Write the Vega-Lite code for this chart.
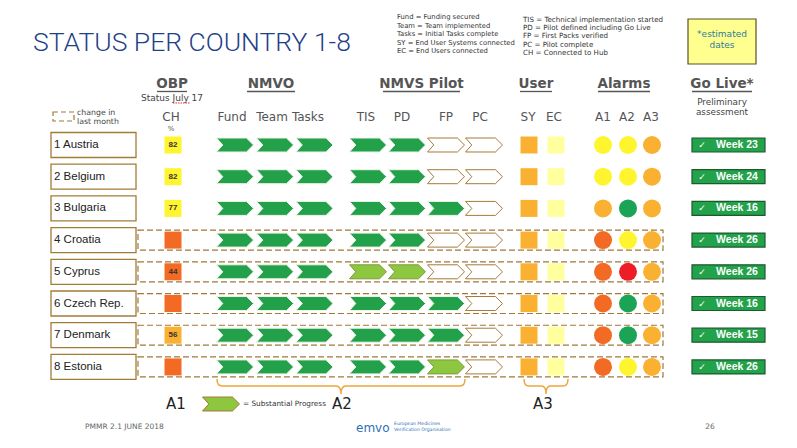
{
"$schema":"https://vega.github.io/schema/vega-lite/v6.json",
"width":797,"height":448,
"autosize":{"type":"fit","contains":"padding"},
"padding":0,
"background":"#FFFFFF",
"config":{"view":{"stroke":null}},
"datasets":{"countries":[
{"rank":1,"country":"1 Austria","CH":82,"CH_status":"yellow","Fund":"complete","Team":"complete","Tasks":"complete","TIS":"complete","PD":"complete","FP":"not started","PC":"not started","SY":"amber","EC":"pale","A1":"yellow","A2":"yellow","A3":"amber","goLive":"Week 23","changed":false},
{"rank":2,"country":"2 Belgium","CH":82,"CH_status":"yellow","Fund":"complete","Team":"complete","Tasks":"complete","TIS":"complete","PD":"complete","FP":"not started","PC":"not started","SY":"amber","EC":"pale","A1":"yellow","A2":"yellow","A3":"amber","goLive":"Week 24","changed":false},
{"rank":3,"country":"3 Bulgaria","CH":77,"CH_status":"yellow","Fund":"complete","Team":"complete","Tasks":"complete","TIS":"complete","PD":"complete","FP":"complete","PC":"not started","SY":"amber","EC":"pale","A1":"amber","A2":"green","A3":"amber","goLive":"Week 16","changed":false},
{"rank":4,"country":"4 Croatia","CH":null,"CH_status":"orange","Fund":"complete","Team":"complete","Tasks":"complete","TIS":"complete","PD":"complete","FP":"not started","PC":"not started","SY":"amber","EC":"pale","A1":"orange","A2":"yellow","A3":"amber","goLive":"Week 26","changed":true},
{"rank":5,"country":"5 Cyprus","CH":44,"CH_status":"orange","Fund":"complete","Team":"complete","Tasks":"complete","TIS":"substantial","PD":"substantial","FP":"not started","PC":"not started","SY":"amber","EC":"pale","A1":"orange","A2":"red","A3":"amber","goLive":"Week 26","changed":true},
{"rank":6,"country":"6 Czech Rep.","CH":null,"CH_status":"orange","Fund":"complete","Team":"complete","Tasks":"complete","TIS":"complete","PD":"complete","FP":"complete","PC":"not started","SY":"amber","EC":"pale","A1":"orange","A2":"green","A3":"amber","goLive":"Week 16","changed":true},
{"rank":7,"country":"7 Denmark","CH":56,"CH_status":"amber","Fund":"complete","Team":"complete","Tasks":"complete","TIS":"complete","PD":"complete","FP":"complete","PC":"not started","SY":"amber","EC":"pale","A1":"orange","A2":"green","A3":"amber","goLive":"Week 15","changed":true},
{"rank":8,"country":"8 Estonia","CH":null,"CH_status":"orange","Fund":"complete","Team":"complete","Tasks":"complete","TIS":"complete","PD":"complete","FP":"substantial","PC":"not started","SY":"amber","EC":"pale","A1":"orange","A2":"yellow","A3":"amber","goLive":"Week 26","changed":true}
]},
"data":{"name":"countries"},
"layer":[
{"data":{"values":[{}]},"mark":{"type":"text","text":"STATUS PER COUNTRY 1-8","font":"Roboto","fontWeight":300,"fontSize":26.5,"color":"#1F3F87","align":"left","baseline":"middle"},"encoding":{"x":{"datum":33,"type":"quantitative","scale":{"domain":[0,797],"nice":false,"zero":false},"axis":null},"y":{"datum":-2.218,"type":"quantitative","scale":{"domain":[-3.574,10.558],"nice":false,"zero":false,"reverse":true},"axis":null}}},
{"data":{"values":[{}]},"mark":{"type":"text","text":"Fund = Funding secured\nTeam = Team implemented\nTasks = Initial Tasks complete\n \nSY = End User Systems connected\nEC = End Users connected","lineBreak":"\n","lineHeight":8.4,"font":"DejaVu Sans","fontSize":6.8,"color":"#333333","align":"left","baseline":"top"},"encoding":{"x":{"datum":397,"type":"quantitative","axis":null},"y":{"datum":-3.117,"type":"quantitative","axis":null}}},
{"data":{"values":[{}]},"mark":{"type":"text","text":"TIS = Technical implementation started\nPD = Pilot defined including Go Live\nFP = First Packs verified\nPC = Pilot complete\n \nCH = Connected to Hub","lineBreak":"\n","lineHeight":8.2,"font":"DejaVu Sans","fontSize":7.1,"color":"#333333","align":"left","baseline":"top"},"encoding":{"x":{"datum":523,"type":"quantitative","axis":null},"y":{"datum":-3.069,"type":"quantitative","axis":null}}},
{"data":{"values":[{}]},"mark":{"type":"rect","fill":"#FFFF8F","stroke":"#5C5026","strokeWidth":1.2},"encoding":{"x":{"datum":688,"type":"quantitative","axis":null},"x2":{"datum":756},"y":{"datum":-2.975,"type":"quantitative","axis":null},"y2":{"datum":-1.555}}},
{"data":{"values":[{}]},"mark":{"type":"text","text":"*estimated\ndates","lineBreak":"\n","lineHeight":11,"font":"DejaVu Sans","fontSize":9,"color":"#2E7D9A","align":"center","baseline":"top"},"encoding":{"x":{"datum":722,"type":"quantitative","axis":null},"y":{"datum":-2.612,"type":"quantitative","axis":null}}},

{"data":{"values":[{}]},"mark":{"type":"text","text":"OBP","font":"DejaVu Sans","fontWeight":"bold","fontSize":13.5,"color":"#555555","align":"center","baseline":"middle"},"encoding":{"x":{"datum":172,"type":"quantitative","axis":null},"y":{"datum":-0.924,"type":"quantitative","axis":null}}},
{"data":{"values":[{}]},"mark":{"type":"text","text":"NMVO","font":"DejaVu Sans","fontWeight":"bold","fontSize":13.5,"color":"#555555","align":"center","baseline":"middle"},"encoding":{"x":{"datum":271,"type":"quantitative","axis":null},"y":{"datum":-0.924,"type":"quantitative","axis":null}}},
{"data":{"values":[{}]},"mark":{"type":"text","text":"NMVS Pilot","font":"DejaVu Sans","fontWeight":"bold","fontSize":13.5,"color":"#555555","align":"center","baseline":"middle"},"encoding":{"x":{"datum":421.5,"type":"quantitative","axis":null},"y":{"datum":-0.924,"type":"quantitative","axis":null}}},
{"data":{"values":[{}]},"mark":{"type":"text","text":"User","font":"DejaVu Sans","fontWeight":"bold","fontSize":13.5,"color":"#555555","align":"center","baseline":"middle"},"encoding":{"x":{"datum":536,"type":"quantitative","axis":null},"y":{"datum":-0.924,"type":"quantitative","axis":null}}},
{"data":{"values":[{}]},"mark":{"type":"text","text":"Alarms","font":"DejaVu Sans","fontWeight":"bold","fontSize":13.5,"color":"#555555","align":"center","baseline":"middle"},"encoding":{"x":{"datum":624,"type":"quantitative","axis":null},"y":{"datum":-0.924,"type":"quantitative","axis":null}}},
{"data":{"values":[{}]},"mark":{"type":"text","text":"Go Live*","font":"DejaVu Sans","fontWeight":"bold","fontSize":13.5,"color":"#555555","align":"center","baseline":"middle"},"encoding":{"x":{"datum":722,"type":"quantitative","axis":null},"y":{"datum":-0.924,"type":"quantitative","axis":null}}},
{"data":{"values":[{}]},"mark":{"type":"rule","color":"#555555","strokeWidth":1.3},"encoding":{"x":{"datum":157,"type":"quantitative","axis":null},"x2":{"datum":187},"y":{"datum":-0.688,"type":"quantitative","axis":null}}},
{"data":{"values":[{}]},"mark":{"type":"rule","color":"#555555","strokeWidth":1.3},"encoding":{"x":{"datum":247,"type":"quantitative","axis":null},"x2":{"datum":295},"y":{"datum":-0.688,"type":"quantitative","axis":null}}},
{"data":{"values":[{}]},"mark":{"type":"rule","color":"#555555","strokeWidth":1.3},"encoding":{"x":{"datum":383,"type":"quantitative","axis":null},"x2":{"datum":460},"y":{"datum":-0.688,"type":"quantitative","axis":null}}},
{"data":{"values":[{}]},"mark":{"type":"rule","color":"#555555","strokeWidth":1.3},"encoding":{"x":{"datum":520,"type":"quantitative","axis":null},"x2":{"datum":552},"y":{"datum":-0.688,"type":"quantitative","axis":null}}},
{"data":{"values":[{}]},"mark":{"type":"rule","color":"#555555","strokeWidth":1.3},"encoding":{"x":{"datum":598,"type":"quantitative","axis":null},"x2":{"datum":650},"y":{"datum":-0.688,"type":"quantitative","axis":null}}},
{"data":{"values":[{}]},"mark":{"type":"rule","color":"#555555","strokeWidth":1.3},"encoding":{"x":{"datum":692,"type":"quantitative","axis":null},"x2":{"datum":752},"y":{"datum":-0.688,"type":"quantitative","axis":null}}},

{"data":{"values":[{}]},"mark":{"type":"text","text":"Status July 17","font":"DejaVu Sans","fontSize":9,"color":"#444444","align":"center","baseline":"middle"},"encoding":{"x":{"datum":172,"type":"quantitative","axis":null},"y":{"datum":-0.483,"type":"quantitative","axis":null}}},
{"data":{"values":[{}]},"mark":{"type":"rule","color":"#E03030","strokeWidth":1,"strokeDash":[1.5,1]},"encoding":{"x":{"datum":173,"type":"quantitative","axis":null},"x2":{"datum":190},"y":{"datum":-0.325,"type":"quantitative","axis":null}}},
{"data":{"values":[{}]},"mark":{"type":"text","text":"Preliminary\nassessment","lineBreak":"\n","lineHeight":9.5,"font":"DejaVu Sans","fontSize":8.8,"color":"#444444","align":"center","baseline":"top"},"encoding":{"x":{"datum":722,"type":"quantitative","axis":null},"y":{"datum":-0.467,"type":"quantitative","axis":null}}},

{"data":{"values":[{}]},"mark":{"type":"text","text":"CH","font":"DejaVu Sans","fontSize":12,"color":"#555555","align":"center","baseline":"middle"},"encoding":{"x":{"datum":171,"type":"quantitative","axis":null},"y":{"datum":0.117,"type":"quantitative","axis":null}}},
{"data":{"values":[{}]},"mark":{"type":"text","text":"%","font":"DejaVu Sans","fontSize":7,"color":"#555555","align":"center","baseline":"middle"},"encoding":{"x":{"datum":171,"type":"quantitative","axis":null},"y":{"datum":0.495,"type":"quantitative","axis":null}}},
{"data":{"values":[{}]},"mark":{"type":"text","text":"Fund","font":"DejaVu Sans","fontSize":12,"color":"#555555","align":"center","baseline":"middle"},"encoding":{"x":{"datum":232,"type":"quantitative","axis":null},"y":{"datum":0.117,"type":"quantitative","axis":null}}},
{"data":{"values":[{}]},"mark":{"type":"text","text":"Team","font":"DejaVu Sans","fontSize":12,"color":"#555555","align":"center","baseline":"middle"},"encoding":{"x":{"datum":272,"type":"quantitative","axis":null},"y":{"datum":0.117,"type":"quantitative","axis":null}}},
{"data":{"values":[{}]},"mark":{"type":"text","text":"Tasks","font":"DejaVu Sans","fontSize":12,"color":"#555555","align":"center","baseline":"middle"},"encoding":{"x":{"datum":308,"type":"quantitative","axis":null},"y":{"datum":0.117,"type":"quantitative","axis":null}}},
{"data":{"values":[{}]},"mark":{"type":"text","text":"TIS","font":"DejaVu Sans","fontSize":12,"color":"#555555","align":"center","baseline":"middle"},"encoding":{"x":{"datum":366,"type":"quantitative","axis":null},"y":{"datum":0.117,"type":"quantitative","axis":null}}},
{"data":{"values":[{}]},"mark":{"type":"text","text":"PD","font":"DejaVu Sans","fontSize":12,"color":"#555555","align":"center","baseline":"middle"},"encoding":{"x":{"datum":402,"type":"quantitative","axis":null},"y":{"datum":0.117,"type":"quantitative","axis":null}}},
{"data":{"values":[{}]},"mark":{"type":"text","text":"FP","font":"DejaVu Sans","fontSize":12,"color":"#555555","align":"center","baseline":"middle"},"encoding":{"x":{"datum":446,"type":"quantitative","axis":null},"y":{"datum":0.117,"type":"quantitative","axis":null}}},
{"data":{"values":[{}]},"mark":{"type":"text","text":"PC","font":"DejaVu Sans","fontSize":12,"color":"#555555","align":"center","baseline":"middle"},"encoding":{"x":{"datum":480,"type":"quantitative","axis":null},"y":{"datum":0.117,"type":"quantitative","axis":null}}},
{"data":{"values":[{}]},"mark":{"type":"text","text":"SY","font":"DejaVu Sans","fontSize":12,"color":"#555555","align":"center","baseline":"middle"},"encoding":{"x":{"datum":528,"type":"quantitative","axis":null},"y":{"datum":0.117,"type":"quantitative","axis":null}}},
{"data":{"values":[{}]},"mark":{"type":"text","text":"EC","font":"DejaVu Sans","fontSize":12,"color":"#555555","align":"center","baseline":"middle"},"encoding":{"x":{"datum":554,"type":"quantitative","axis":null},"y":{"datum":0.117,"type":"quantitative","axis":null}}},
{"data":{"values":[{}]},"mark":{"type":"text","text":"A1","font":"DejaVu Sans","fontSize":12,"color":"#555555","align":"center","baseline":"middle"},"encoding":{"x":{"datum":603,"type":"quantitative","axis":null},"y":{"datum":0.117,"type":"quantitative","axis":null}}},
{"data":{"values":[{}]},"mark":{"type":"text","text":"A2","font":"DejaVu Sans","fontSize":12,"color":"#555555","align":"center","baseline":"middle"},"encoding":{"x":{"datum":627,"type":"quantitative","axis":null},"y":{"datum":0.117,"type":"quantitative","axis":null}}},
{"data":{"values":[{}]},"mark":{"type":"text","text":"A3","font":"DejaVu Sans","fontSize":12,"color":"#555555","align":"center","baseline":"middle"},"encoding":{"x":{"datum":651,"type":"quantitative","axis":null},"y":{"datum":0.117,"type":"quantitative","axis":null}}},

{"data":{"values":[{}]},"mark":{"type":"rect","fill":null,"stroke":"#A0783A","strokeWidth":1.2,"strokeDash":[5,3]},"encoding":{"x":{"datum":53,"type":"quantitative","axis":null},"x2":{"datum":74},"y":{"datum":-0.041,"type":"quantitative","axis":null},"y2":{"datum":0.243}}},
{"data":{"values":[{}]},"mark":{"type":"text","text":"change in\nlast month","lineBreak":"\n","lineHeight":8.6,"font":"DejaVu Sans","fontSize":7.8,"color":"#444444","align":"left","baseline":"top"},"encoding":{"x":{"datum":77,"type":"quantitative","axis":null},"y":{"datum":-0.136,"type":"quantitative","axis":null}}},

{"transform":[{"filter":{"field":"changed","equal":true}}],"mark":{"type":"point","shape":"M-1,-0.038L1,-0.038L1,0.038L-1,0.038Z","size":275625,"filled":false,"stroke":"#A0783A","strokeWidth":1.2,"strokeDash":[6,3],"opacity":1},"encoding":{"x":{"datum":400.5,"type":"quantitative","axis":null},"y":{"field":"rank","type":"quantitative","axis":null}}},
{"mark":{"type":"point","shape":"M-1,-0.294L1,-0.294L1,0.294L-1,0.294Z","size":7225,"filled":true,"fill":"#FFFFFF","stroke":"#A27C36","strokeWidth":1.3,"opacity":1},"encoding":{"x":{"datum":93.5,"type":"quantitative","axis":null},"y":{"field":"rank","type":"quantitative","axis":null}}},
{"mark":{"type":"text","font":"Liberation Sans","fontSize":11.5,"color":"#222222","align":"left","baseline":"middle"},"encoding":{"x":{"datum":54,"type":"quantitative","axis":null},"y":{"field":"rank","type":"quantitative","axis":null},"text":{"field":"country"}}},

{"mark":{"type":"point","shape":"square","size":289,"filled":true,"opacity":1,"strokeWidth":0},"encoding":{"x":{"datum":173,"type":"quantitative","axis":null},"y":{"field":"rank","type":"quantitative","axis":null},"fill":{"field":"CH_status","type":"nominal","legend":null,"scale":{"domain":["complete","substantial","not started","green","yellow","amber","orange","red","pale"],"range":["#23A04A","#8DC63F","#FFFFFF","#1BA356","#FFF52E","#FAB132","#F26A23","#EE1D25","#FFFF9E"]}}}},
{"transform":[{"filter":"datum.CH != null"}],"mark":{"type":"text","font":"Liberation Sans","fontWeight":"bold","fontSize":8,"color":"#333333","align":"center","baseline":"middle"},"encoding":{"x":{"datum":173,"type":"quantitative","axis":null},"y":{"field":"rank","type":"quantitative","axis":null},"text":{"field":"CH","type":"quantitative"}}},

{"mark":{"type":"point","shape":"M-1,-0.378L0.62,-0.378L1,0L0.62,0.378L-1,0.378L-0.66,0Z","size":1369,"filled":true,"strokeWidth":1,"opacity":1},"encoding":{"x":{"datum":235,"type":"quantitative","axis":null},"y":{"field":"rank","type":"quantitative","axis":null},"fill":{"field":"Fund","type":"nominal","legend":null},"stroke":{"field":"Fund","type":"nominal","legend":null,"scale":{"domain":["complete","substantial","not started"],"range":["#EEF5E8","#7F9A3C","#A57A3A"]}}}},
{"mark":{"type":"point","shape":"M-1,-0.378L0.62,-0.378L1,0L0.62,0.378L-1,0.378L-0.66,0Z","size":1369,"filled":true,"strokeWidth":1,"opacity":1},"encoding":{"x":{"datum":275,"type":"quantitative","axis":null},"y":{"field":"rank","type":"quantitative","axis":null},"fill":{"field":"Team","type":"nominal","legend":null},"stroke":{"field":"Team","type":"nominal","legend":null}}},
{"mark":{"type":"point","shape":"M-1,-0.378L0.62,-0.378L1,0L0.62,0.378L-1,0.378L-0.66,0Z","size":1369,"filled":true,"strokeWidth":1,"opacity":1},"encoding":{"x":{"datum":314.5,"type":"quantitative","axis":null},"y":{"field":"rank","type":"quantitative","axis":null},"fill":{"field":"Tasks","type":"nominal","legend":null},"stroke":{"field":"Tasks","type":"nominal","legend":null}}},
{"mark":{"type":"point","shape":"M-1,-0.378L0.62,-0.378L1,0L0.62,0.378L-1,0.378L-0.66,0Z","size":1369,"filled":true,"strokeWidth":1,"opacity":1},"encoding":{"x":{"datum":368,"type":"quantitative","axis":null},"y":{"field":"rank","type":"quantitative","axis":null},"fill":{"field":"TIS","type":"nominal","legend":null},"stroke":{"field":"TIS","type":"nominal","legend":null}}},
{"mark":{"type":"point","shape":"M-1,-0.378L0.62,-0.378L1,0L0.62,0.378L-1,0.378L-0.66,0Z","size":1369,"filled":true,"strokeWidth":1,"opacity":1},"encoding":{"x":{"datum":407,"type":"quantitative","axis":null},"y":{"field":"rank","type":"quantitative","axis":null},"fill":{"field":"PD","type":"nominal","legend":null},"stroke":{"field":"PD","type":"nominal","legend":null}}},
{"mark":{"type":"point","shape":"M-1,-0.378L0.62,-0.378L1,0L0.62,0.378L-1,0.378L-0.66,0Z","size":1369,"filled":true,"strokeWidth":1,"opacity":1},"encoding":{"x":{"datum":446,"type":"quantitative","axis":null},"y":{"field":"rank","type":"quantitative","axis":null},"fill":{"field":"FP","type":"nominal","legend":null},"stroke":{"field":"FP","type":"nominal","legend":null}}},
{"mark":{"type":"point","shape":"M-1,-0.378L0.62,-0.378L1,0L0.62,0.378L-1,0.378L-0.66,0Z","size":1369,"filled":true,"strokeWidth":1,"opacity":1},"encoding":{"x":{"datum":484,"type":"quantitative","axis":null},"y":{"field":"rank","type":"quantitative","axis":null},"fill":{"field":"PC","type":"nominal","legend":null},"stroke":{"field":"PC","type":"nominal","legend":null}}},

{"mark":{"type":"point","shape":"square","size":289,"filled":true,"opacity":1,"strokeWidth":0},"encoding":{"x":{"datum":529,"type":"quantitative","axis":null},"y":{"field":"rank","type":"quantitative","axis":null},"fill":{"field":"SY","type":"nominal","legend":null}}},
{"mark":{"type":"point","shape":"square","size":289,"filled":true,"opacity":1,"strokeWidth":0},"encoding":{"x":{"datum":556,"type":"quantitative","axis":null},"y":{"field":"rank","type":"quantitative","axis":null},"fill":{"field":"EC","type":"nominal","legend":null}}},
{"mark":{"type":"point","shape":"circle","size":324,"filled":true,"opacity":1,"strokeWidth":0},"encoding":{"x":{"datum":603,"type":"quantitative","axis":null},"y":{"field":"rank","type":"quantitative","axis":null},"fill":{"field":"A1","type":"nominal","legend":null}}},
{"mark":{"type":"point","shape":"circle","size":324,"filled":true,"opacity":1,"strokeWidth":0},"encoding":{"x":{"datum":628,"type":"quantitative","axis":null},"y":{"field":"rank","type":"quantitative","axis":null},"fill":{"field":"A2","type":"nominal","legend":null}}},
{"mark":{"type":"point","shape":"circle","size":324,"filled":true,"opacity":1,"strokeWidth":0},"encoding":{"x":{"datum":652,"type":"quantitative","axis":null},"y":{"field":"rank","type":"quantitative","axis":null},"fill":{"field":"A3","type":"nominal","legend":null}}},

{"mark":{"type":"point","shape":"M-1,-0.192L1,-0.192L1,0.192L-1,0.192Z","size":5329,"filled":true,"fill":"#22A24A","stroke":"#1D5A2E","strokeWidth":1.2,"opacity":1},"encoding":{"x":{"datum":728.5,"type":"quantitative","axis":null},"y":{"field":"rank","type":"quantitative","axis":null}}},
{"mark":{"type":"text","text":"✓","font":"DejaVu Sans","fontSize":9,"color":"#FFFFFF","align":"center","baseline":"middle"},"encoding":{"x":{"datum":702,"type":"quantitative","axis":null},"y":{"field":"rank","type":"quantitative","axis":null}}},
{"mark":{"type":"text","font":"Liberation Sans","fontWeight":"bold","fontSize":10.5,"color":"#FFFFFF","align":"center","baseline":"middle"},"encoding":{"x":{"datum":737,"type":"quantitative","axis":null},"y":{"field":"rank","type":"quantitative","axis":null},"text":{"field":"goLive"}}},

{"data":{"values":[{}]},"mark":{"type":"point","shape":"M-1,-0.056Q-1,0 -0.96,0L-0.04,0Q0,0 0,0.064M0,0.064Q0,0 0.04,0L0.96,0Q1,0 1,-0.056","size":61504,"filled":false,"stroke":"#F0A53C","strokeWidth":1.5,"opacity":1},"encoding":{"x":{"datum":341,"type":"quantitative","axis":null},"y":{"datum":8.603,"type":"quantitative","axis":null}}},
{"data":{"values":[{}]},"mark":{"type":"point","shape":"M-1,-0.32Q-1,0 -0.77,0L-0.2,0Q0,0 0,0.36M0,0.36Q0,0 0.2,0L0.77,0Q1,0 1,-0.32","size":1936,"filled":false,"stroke":"#F0A53C","strokeWidth":1.5,"opacity":1},"encoding":{"x":{"datum":546,"type":"quantitative","axis":null},"y":{"datum":8.603,"type":"quantitative","axis":null}}},

{"data":{"values":[{}]},"mark":{"type":"text","text":"A1","font":"DejaVu Sans","fontSize":15,"color":"#222222","align":"center","baseline":"middle"},"encoding":{"x":{"datum":176,"type":"quantitative","axis":null},"y":{"datum":9.17,"type":"quantitative","axis":null}}},
{"data":{"values":[{}]},"mark":{"type":"text","text":"A2","font":"DejaVu Sans","fontSize":15,"color":"#222222","align":"center","baseline":"middle"},"encoding":{"x":{"datum":342,"type":"quantitative","axis":null},"y":{"datum":9.17,"type":"quantitative","axis":null}}},
{"data":{"values":[{}]},"mark":{"type":"text","text":"A3","font":"DejaVu Sans","fontSize":15,"color":"#222222","align":"center","baseline":"middle"},"encoding":{"x":{"datum":543,"type":"quantitative","axis":null},"y":{"datum":9.17,"type":"quantitative","axis":null}}},
{"data":{"values":[{}]},"mark":{"type":"point","shape":"M-1,-0.378L0.62,-0.378L1,0L0.62,0.378L-1,0.378L-0.66,0Z","size":1369,"filled":true,"fill":"#8DC63F","stroke":"#A57A3A","strokeWidth":1,"opacity":1},"encoding":{"x":{"datum":221,"type":"quantitative","axis":null},"y":{"datum":9.17,"type":"quantitative","axis":null}}},
{"data":{"values":[{}]},"mark":{"type":"text","text":"= Substantial Progress","font":"DejaVu Sans","fontSize":7.3,"color":"#333333","align":"left","baseline":"middle"},"encoding":{"x":{"datum":243,"type":"quantitative","axis":null},"y":{"datum":9.17,"type":"quantitative","axis":null}}},

{"data":{"values":[{}]},"mark":{"type":"text","text":"PMMR 2.1 JUNE 2018","font":"DejaVu Sans","fontSize":7.5,"color":"#666666","align":"left","baseline":"middle"},"encoding":{"x":{"datum":85,"type":"quantitative","axis":null},"y":{"datum":9.896,"type":"quantitative","axis":null}}},
{"data":{"values":[{}]},"mark":{"type":"text","text":"emvo","font":"DejaVu Sans","fontSize":12,"color":"#2F6FB7","align":"left","baseline":"middle"},"encoding":{"x":{"datum":356,"type":"quantitative","axis":null},"y":{"datum":9.93,"type":"quantitative","axis":null}}},
{"data":{"values":[{}]},"mark":{"type":"text","text":"European Medicines\nVerification Organisation","lineBreak":"\n","lineHeight":6,"font":"DejaVu Sans","fontSize":4.6,"color":"#2F6FB7","align":"left","baseline":"top"},"encoding":{"x":{"datum":394,"type":"quantitative","axis":null},"y":{"datum":9.722,"type":"quantitative","axis":null}}},
{"data":{"values":[{}]},"mark":{"type":"text","text":"26","font":"DejaVu Sans","fontSize":7.5,"color":"#666666","align":"center","baseline":"middle"},"encoding":{"x":{"datum":710,"type":"quantitative","axis":null},"y":{"datum":9.896,"type":"quantitative","axis":null}}}
]
}
